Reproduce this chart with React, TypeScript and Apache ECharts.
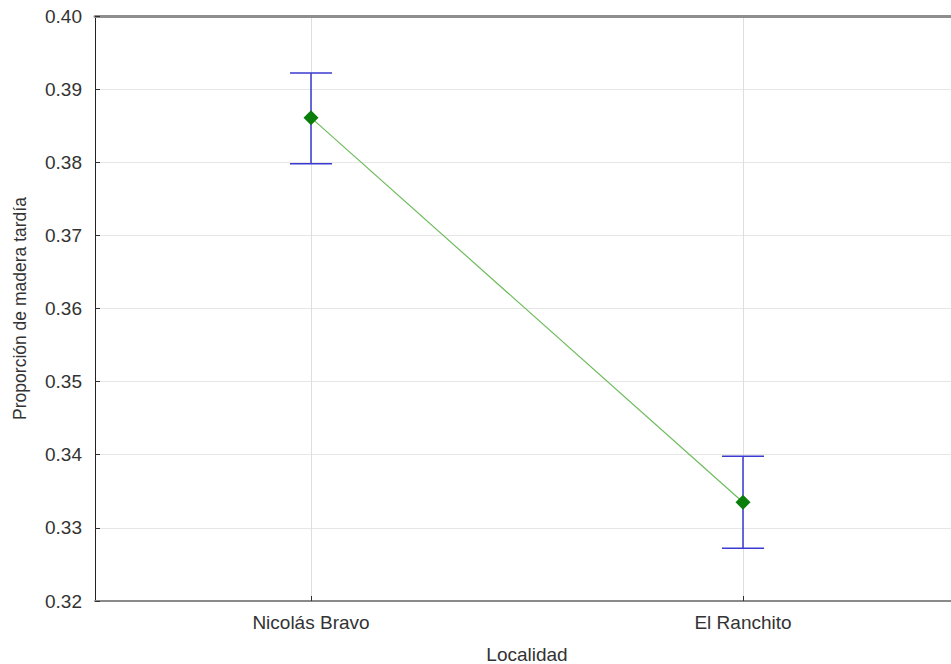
import React, { useEffect, useRef } from "react";
import * as echarts from "echarts";

const categories = ["Nicolás Bravo", "El Ranchito"];
const means = [0.3861, 0.3335];
const upper = [0.3922, 0.3398];
const lower = [0.3798, 0.3272];
const yTicks = { min: 0.32, max: 0.4, interval: 0.01 };

export default function App() {
  const ref = useRef<HTMLDivElement>(null);
  useEffect(() => {
    if (!ref.current) return;
    const chart = echarts.init(ref.current, undefined, { renderer: "svg" });
    const font = "Liberation Sans, Arial, sans-serif";
    chart.setOption({
      animation: false,
      backgroundColor: "#ffffff",
      grid: { left: 95, top: 16, bottom: 63, right: 1, outerBoundsMode: "none", containLabel: false },
      xAxis: [
        {
          type: "category",
          data: categories,
          boundaryGap: true,
          name: "Localidad",
          nameLocation: "middle",
          nameGap: 44,
          nameTextStyle: { fontFamily: font, fontSize: 19, color: "#333" },
          axisLine: { lineStyle: { color: "#8a8a8a", width: 2 } },
          axisTick: { show: true, inside: true, alignWithLabel: true, length: 5, lineStyle: { color: "#333" } },
          axisLabel: { fontFamily: font, fontSize: 19, color: "#333", margin: 12 },
          splitLine: { show: false },
        },
        {
          type: "category",
          data: categories,
          position: "top",
          axisLine: { lineStyle: { color: "#8e8e8e", width: 3 } },
          axisTick: { show: false },
          axisLabel: { show: false },
        },
      ],
      yAxis: {
        type: "value",
        min: yTicks.min,
        max: yTicks.max,
        interval: yTicks.interval,
        name: "Proporción de madera tardía",
        nameLocation: "middle",
        nameGap: 66,
        nameTextStyle: { fontFamily: font, fontSize: 17.5, color: "#333" },
        axisLine: { show: true, lineStyle: { color: "#222", width: 1 } },
        axisTick: { show: true, inside: true, length: 5, lineStyle: { color: "#333" } },
        axisLabel: {
          fontFamily: font,
          fontSize: 19,
          color: "#333",
          margin: 13,
          formatter: (v: number) => v.toFixed(2),
        },
        splitLine: { show: true, lineStyle: { color: "#e6e6e6", width: 1 } },
      },
      series: [
        {
          type: "custom",
          z: 1,
          silent: true,
          data: categories.map((_, i) => [i, lower[i], upper[i]]),
          renderItem: (params: any, api: any) => {
            const x = api.value(0);
            const lo = api.coord([x, api.value(1)]);
            const hi = api.coord([x, api.value(2)]);
            const hw = 21;
            const style = { stroke: "#3a3ad0", lineWidth: 1.5 };
            return {
              type: "group",
              children: [
                { type: "line", shape: { x1: hi[0], y1: hi[1], x2: lo[0], y2: lo[1] }, style },
                { type: "line", shape: { x1: hi[0] - hw, y1: hi[1], x2: hi[0] + hw, y2: hi[1] }, style },
                { type: "line", shape: { x1: lo[0] - hw, y1: lo[1], x2: lo[0] + hw, y2: lo[1] }, style },
              ],
            };
          },
        },
        {
          type: "line",
          z: 3,
          data: means,
          symbol: "diamond",
          symbolSize: 15,
          itemStyle: { color: "#0b7d0b" },
          lineStyle: { color: "#6cbc5c", width: 1.2 },
          markLine: {
            silent: true,
            symbol: "none",
            label: { show: false },
            lineStyle: { color: "#dedede", type: "solid", width: 1 },
            z: 0,
            data: categories.map((c) => ({ xAxis: c })),
          },
        },
      ],
    });
    return () => chart.dispose();
  }, []);
  return (
    <div style={{ position: "absolute", left: 0, top: 0, width: 951, height: 664, overflow: "hidden" }}>
      <div ref={ref} style={{ width: 960, height: 664 }} />
    </div>
  );
}
